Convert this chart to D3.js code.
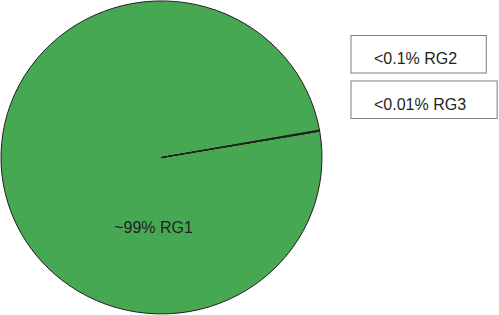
<!DOCTYPE html>
<html>
<head>
<meta charset="utf-8">
<script src="https://cdn.jsdelivr.net/npm/d3@7"></script>
<style>
body { margin: 0; background: #fff; }
svg { display: block; }
text { font-family: "Liberation Sans", Arial, sans-serif; fill: #231f20; }
</style>
</head>
<body>
<div id="chart"></div>
<script>
var groups = ["RG1", "RG2", "RG3"]
var shares = [99.89, 0.1, 0.01]
var labels = ["~99% RG1", "<0.1% RG2", "<0.01% RG3"]

var width = 499, height = 315
var cx = 161.5, cy = 157.5
var rx = 160.5, ry = 156.5

var svg = d3.select('#chart').append('svg')
	.attr('width', width)
	.attr('height', height)

// start the big slice at the boundary line (about 10 deg above 3 o'clock)
var start = 80.3 * Math.PI / 180
var pie = d3.pie().sort(null).value(function(d){ return d })
	.startAngle(start).endAngle(start + 2 * Math.PI)
var arcs = pie(shares)

var arc = d3.arc().innerRadius(0).outerRadius(rx)

var g = svg.append('g')
	.attr('transform', 'translate(' + cx + ',' + cy + ') scale(1,' + (ry / rx) + ')')

g.selectAll('path').data(arcs).enter().append('path')
	.attr('d', arc)
	.attr('fill', '#47a853')
	.attr('stroke', '#231f20')
	.attr('stroke-width', 1)
	.attr('vector-effect', 'non-scaling-stroke')

// label of the main slice
svg.append('text')
	.attr('x', cx - 8)
	.attr('y', cy + 75)
	.attr('text-anchor', 'middle')
	.style('font-size', '16px')
	.text(labels[0])

// boxed labels for the tiny slices
var boxTop = [35.5, 81]
var small = svg.selectAll('.small').data([1, 2]).enter().append('g')
	.attr('class', 'small')

small.each(function(i, k){
	var s = d3.select(this)
	var t = s.append('text')
		.attr('x', 374)
		.attr('y', boxTop[k] + 28.5)
		.style('font-size', '16px')
		.text(labels[i])
	var w = t.node().getBBox().width
	s.insert('rect', 'text')
		.attr('x', 351)
		.attr('y', boxTop[k])
		.attr('width', w + 23 + 29 + k * 2)
		.attr('height', 37.5)
		.attr('fill', '#fff')
		.attr('stroke', '#7a7a7a')
		.attr('stroke-width', 1)
})
</script>
</body>
</html>
